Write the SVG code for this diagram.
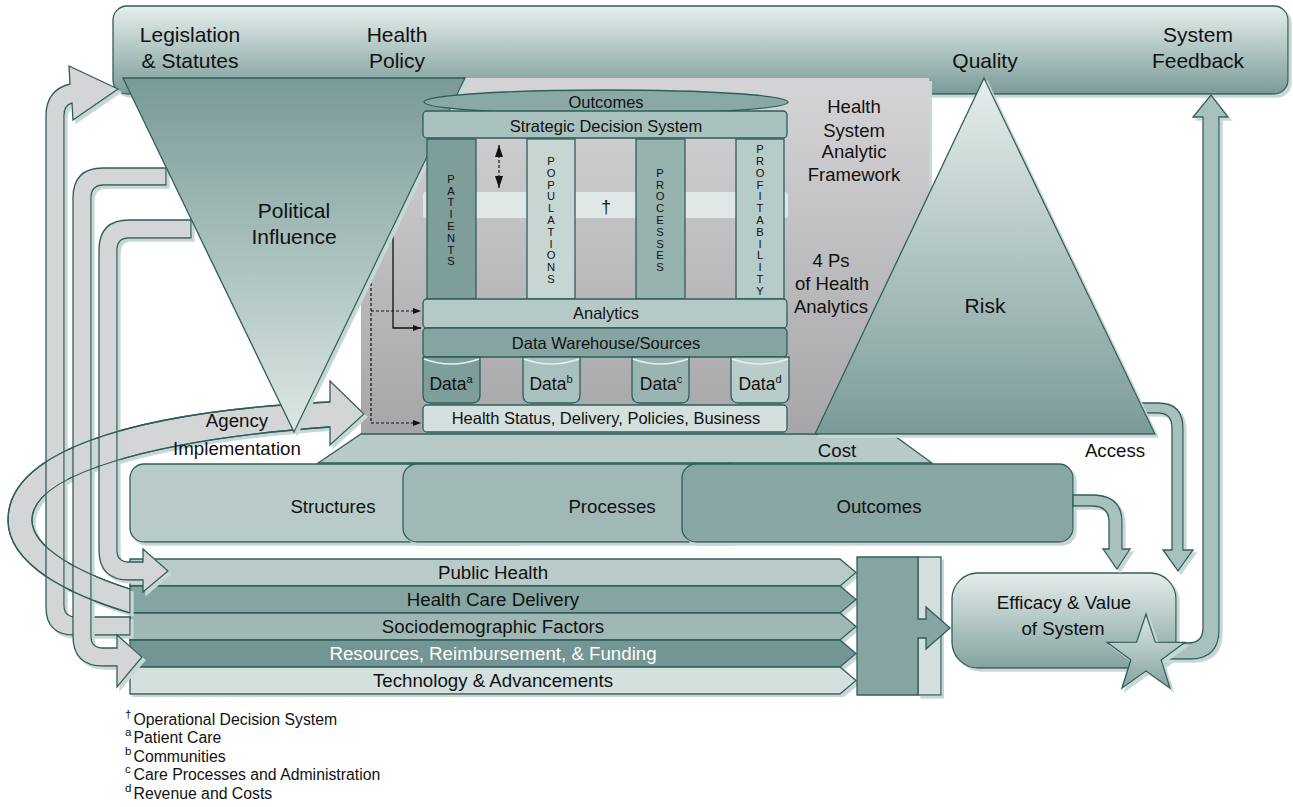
<svg xmlns="http://www.w3.org/2000/svg" width="1293" height="807" viewBox="0 0 1293 807">
<defs>
<linearGradient id="gBanner" x1="0" y1="0" x2="0" y2="1"><stop offset="0" stop-color="#e6efed"/><stop offset="1" stop-color="#7b9b98"/></linearGradient>
<linearGradient id="gPol" x1="0" y1="0" x2="0" y2="1"><stop offset="0" stop-color="#799a97"/><stop offset="1" stop-color="#dce7e5"/></linearGradient>
<linearGradient id="gQual" x1="0" y1="0" x2="0" y2="1"><stop offset="0" stop-color="#e6eeed"/><stop offset="1" stop-color="#7b9b98"/></linearGradient>
<linearGradient id="gGray" x1="0" y1="0" x2="0" y2="1"><stop offset="0" stop-color="#d5d5d7"/><stop offset="1" stop-color="#a6a6a9"/></linearGradient>
<linearGradient id="gEff" x1="0" y1="0" x2="0" y2="1"><stop offset="0" stop-color="#e4edeb"/><stop offset="1" stop-color="#84a3a0"/></linearGradient>
<linearGradient id="gStar" x1="0" y1="0" x2="0" y2="1"><stop offset="0" stop-color="#dde7e5"/><stop offset="1" stop-color="#84a3a0"/></linearGradient>
<filter id="sh" x="-5%" y="-5%" width="115%" height="115%">
<feFlood flood-color="#c6d8d5"/><feComposite in2="SourceAlpha" operator="in"/><feOffset dx="3" dy="3"/>
<feMerge><feMergeNode/><feMergeNode in="SourceGraphic"/></feMerge>
</filter>
<marker id="ah" viewBox="0 0 8 6" refX="8" refY="3" markerWidth="8" markerHeight="6" orient="auto" markerUnits="userSpaceOnUse"><path d="M0,0 L8,3 L0,6 Z" fill="#111"/></marker>
<marker id="ah2" viewBox="0 0 12 8" refX="12" refY="4" markerWidth="12" markerHeight="8" orient="auto-start-reverse" markerUnits="userSpaceOnUse"><path d="M0,0 L12,4 L0,8 Z" fill="#111"/></marker>
</defs>
<style>
text{font-family:"Liberation Sans",Arial,sans-serif;fill:#111;text-anchor:middle}
.s{stroke:#2e5e5b;stroke-width:1.3}
.ga{fill:#d4d5d7;stroke:#2e5e5b;stroke-width:1.3}
.ta{fill:#a9c1be;stroke:#2e5e5b;stroke-width:1.3}
.t21{font-size:21px}
.t19{font-size:18.7px}
.t18{font-size:18.5px}
.t17{font-size:17.5px}
.t16{font-size:16.5px}
.pl{font-size:11.2px}
.fn{font-size:15.8px;text-anchor:start}
.fs{font-size:11.5px;text-anchor:start}
.dot{fill:none;stroke:#111;stroke-width:1.2;stroke-dasharray:3,2}
</style>

<g id="banner">
<rect x="113" y="6" width="1175" height="88" rx="14" fill="url(#gBanner)" class="s" filter="url(#sh)"/>
<text class="t21" x="190" y="41.5">Legislation</text>
<text class="t21" x="190" y="67.5">&amp; Statutes</text>
<text class="t21" x="397" y="41.5">Health</text>
<text class="t21" x="397" y="67.5">Policy</text>
<text class="t21" x="985" y="67.5">Quality</text>
<text class="t21" x="1198" y="41.5">System</text>
<text class="t21" x="1198" y="67.5">Feedback</text>
</g>

<g id="framework-bg">
<rect x="361" y="78" width="568" height="356" fill="url(#gGray)" filter="url(#sh)"/>
<text class="t18" x="854" y="113.4">Health</text>
<text class="t18" x="854" y="136.7">System</text>
<text class="t18" x="854" y="158.4">Analytic</text>
<text class="t18" x="854" y="180.7">Framework</text>
<text class="t18" x="831" y="266.6">4 Ps</text>
<text class="t18" x="832" y="289.9">of Health</text>
<text class="t18" x="831" y="312.6">Analytics</text>
</g>

<g id="cost">
<polygon points="361,434 892,434 932,463 318,463" fill="#b7cac7" class="s"/>
<text class="t19" x="837" y="456.7">Cost</text>
</g>

<g id="spo">
<rect x="130" y="464" width="400" height="78" rx="14" fill="#b8cbc8" class="s" filter="url(#sh)"/>
<rect x="403" y="464" width="340" height="78" rx="14" fill="#a0b9b6" class="s" filter="url(#sh)"/>
<rect x="682" y="464" width="391" height="78" rx="14" fill="#88a7a4" class="s" filter="url(#sh)"/>
<text class="t19" x="333" y="513.4">Structures</text>
<text class="t19" x="612" y="513.4">Processes</text>
<text class="t19" x="879" y="513.4">Outcomes</text>
</g>

<g id="bars">
<polygon points="130,559 840,559 856,572.5 840,586 130,586" fill="#b8cbc8" class="s" filter="url(#sh)"/>
<polygon points="130,586 840,586 856,599.5 840,613 130,613" fill="#86a5a2" class="s" filter="url(#sh)"/>
<polygon points="130,613 840,613 856,626.5 840,640 130,640" fill="#9fb8b5" class="s" filter="url(#sh)"/>
<polygon points="130,640 840,640 856,653.5 840,667 130,667" fill="#739593" class="s" filter="url(#sh)"/>
<polygon points="130,667 840,667 856,680.5 840,694 130,694" fill="#d3e0de" class="s" filter="url(#sh)"/>
<text class="t19" x="493" y="579">Public Health</text>
<text class="t19" x="493" y="606">Health Care Delivery</text>
<text class="t19" x="493" y="633">Sociodemographic Factors</text>
<text class="t19" x="493" y="660" style="fill:#ffffff">Resources, Reimbursement, &amp; Funding</text>
<text class="t19" x="493" y="687">Technology &amp; Advancements</text>
</g>

<g id="collector">
<rect x="918" y="557" width="23" height="138" fill="#d3e0de" class="s" filter="url(#sh)"/>
<polygon points="857,557 918,557 918,619 926,619 926,607 950,628 926,649 926,638 918,638 918,695 857,695" fill="#86a5a2" class="s"/>
</g>

<g id="efficacy">
<rect x="952" y="573" width="224" height="95" rx="26" fill="url(#gEff)" class="s" filter="url(#sh)"/>
<text class="t19" x="1064" y="608.7">Efficacy &amp; Value</text>
<text class="t19" x="1063" y="634.7">of System</text>
</g>

<g id="connectors">
<path class="ga" filter="url(#sh)" d="M130,613 C70,595 8,565 8,520 C8,455 120,412 330,402 L330,381 L364,414 L330,445 L330,427 C150,440 32,475 32,520 C32,548 80,573 130,589 Z"/>
<path class="ga" filter="url(#sh)" d="M130,617 L76,617 Q64,617 64,605 L64,116 Q64,105 72,103 L73,120 L118,89 L69,66 L70,84 Q46,90 46,116 L46,607 Q46,635 74,635 L130,635 Z"/>
<path class="ga" filter="url(#sh)" d="M166,168 L103,168 Q73,168 73,198 L73,636 Q73,666 103,666 L117,666 L117,687 L142,657 L117,635 L117,648 L103,648 Q91,648 91,636 L91,198 Q91,185 104,185 L166,185 Z"/>
<path class="ga" filter="url(#sh)" d="M191,220 L129,220 Q99,220 99,250 L99,550 Q99,580 129,580 L143,580 L143,592 L168,571 L143,549 L143,562 L129,562 Q117,562 117,550 L117,250 Q117,238 129,238 L191,238 Z"/>
<path d="M130,613 C70,595 8,565 8,520 C8,455 120,412 330,402 M330,427 C150,440 32,475 32,520 C32,548 80,573 130,589" fill="none" stroke="#2e5e5b" stroke-width="1.3"/>
<text class="t19" x="237" y="426.7">Agency</text>
<text class="t19" x="237" y="454.7">Implementation</text>
<path class="ta" filter="url(#sh)" d="M1073,495 L1092,495 Q1122,495 1122,522 L1122,549 L1130,549 L1117,569 L1103,549 L1109,549 L1109,522 Q1109,506 1092,506 L1073,506 Z"/>
<path class="ta" filter="url(#sh)" d="M1140,403 L1158,403 Q1183,403 1183,428 L1183,550 L1193,550 L1178,571 L1163,550 L1172,550 L1172,428 Q1172,413 1158,413 L1145,413 Z"/>
<path class="ta" filter="url(#sh)" d="M1162,659 L1190,659 Q1219,659 1219,630 L1219,117 L1228,117 L1211,95 L1193,117 L1203,117 L1203,628 Q1203,643 1188,643 L1184,643 Z"/>
<path class="dot" d="M371,273 V423 H421" marker-end="url(#ah)"/>
<path class="dot" d="M371,311 H421" marker-end="url(#ah)"/>
<path d="M393,227 V328 H421" fill="none" stroke="#111" stroke-width="1.3" marker-end="url(#ah)"/>
</g>

<g id="political">
<polygon points="123,78 465,78 294,432" fill="url(#gPol)" class="s" filter="url(#sh)"/>
<text class="t21" x="294" y="218">Political</text>
<text class="t21" x="294" y="243.5">Influence</text>
</g>

<g id="framework">
<rect x="423" y="192" width="365" height="26" rx="3" fill="#e0e8e7"/>
<rect x="427" y="139" width="49" height="160" fill="#7d9e9b" class="s"/>
<rect x="527" y="139" width="48" height="160" fill="#c5d6d3" class="s"/>
<rect x="636" y="139" width="49" height="160" fill="#97b2af" class="s"/>
<rect x="736" y="139" width="48" height="160" fill="#b7cbc8" class="s"/>
<ellipse cx="606" cy="102" rx="182" ry="12" fill="#8aa8a5" class="s"/>
<rect x="423" y="111" width="364" height="27" rx="4" fill="#a9c1be" class="s"/>
<rect x="423" y="299" width="364" height="29" rx="4" fill="#b5c9c6" class="s"/>
<rect x="423" y="328" width="364" height="29" rx="4" fill="#86a5a2" class="s"/>
<path d="M423,357 L423,395 Q423,403 431,403 L472,403 Q480,403 480,395 L480,357 Z" fill="#7d9e9b" class="s"/>
<path d="M523,357 L523,395 Q523,403 531,403 L572,403 Q580,403 580,395 L580,357 Z" fill="#a9c1be" class="s"/>
<path d="M632,357 L632,395 Q632,403 640,403 L681,403 Q689,403 689,395 L689,357 Z" fill="#9ab4b1" class="s"/>
<path d="M731,357 L731,395 Q731,403 739,403 L781,403 Q789,403 789,395 L789,357 Z" fill="#b8ccc9" class="s"/>
<path d="M424,359 Q451,369 479,359 M524,359 Q551,369 579,359 M633,359 Q660,369 688,359 M732,359 Q760,369 788,359" fill="none" stroke="#e8efee" stroke-width="1.6"/>
<rect x="423" y="405" width="364" height="27" rx="4" fill="#d3e0de" class="s"/>
<path class="dot" d="M499,145 V188" marker-start="url(#ah2)" marker-end="url(#ah2)"/>
<text class="t16" x="606" y="108">Outcomes</text>
<text class="t16" x="606" y="132">Strategic Decision System</text>
<text class="t16" x="606" y="319">Analytics</text>
<text class="t16" x="606" y="348.7">Data Warehouse/Sources</text>
<text class="t16" x="606" y="424.3">Health Status, Delivery, Policies, Business</text>
<text class="t17" x="451" y="389.5">Data<tspan dy="-7" font-size="11">a</tspan></text>
<text class="t17" x="551" y="389.5">Data<tspan dy="-7" font-size="11">b</tspan></text>
<text class="t17" x="661" y="389.5">Data<tspan dy="-7" font-size="11">c</tspan></text>
<text class="t17" x="760" y="389.5">Data<tspan dy="-7" font-size="11">d</tspan></text>
<text class="t17" x="606" y="213">†</text>
<text class="pl" x="451" y="182.7"><tspan x="451">P</tspan><tspan x="451" dy="11.8">A</tspan><tspan x="451" dy="11.8">T</tspan><tspan x="451" dy="11.8">I</tspan><tspan x="451" dy="11.8">E</tspan><tspan x="451" dy="11.8">N</tspan><tspan x="451" dy="11.8">T</tspan><tspan x="451" dy="11.8">S</tspan></text>
<text class="pl" x="551" y="165"><tspan x="551">P</tspan><tspan x="551" dy="11.8">O</tspan><tspan x="551" dy="11.8">P</tspan><tspan x="551" dy="11.8">U</tspan><tspan x="551" dy="11.8">L</tspan><tspan x="551" dy="11.8">A</tspan><tspan x="551" dy="11.8">T</tspan><tspan x="551" dy="11.8">I</tspan><tspan x="551" dy="11.8">O</tspan><tspan x="551" dy="11.8">N</tspan><tspan x="551" dy="11.8">S</tspan></text>
<text class="pl" x="660" y="176.8"><tspan x="660">P</tspan><tspan x="660" dy="11.8">R</tspan><tspan x="660" dy="11.8">O</tspan><tspan x="660" dy="11.8">C</tspan><tspan x="660" dy="11.8">E</tspan><tspan x="660" dy="11.8">S</tspan><tspan x="660" dy="11.8">S</tspan><tspan x="660" dy="11.8">E</tspan><tspan x="660" dy="11.8">S</tspan></text>
<text class="pl" x="760" y="153.2"><tspan x="760">P</tspan><tspan x="760" dy="11.8">R</tspan><tspan x="760" dy="11.8">O</tspan><tspan x="760" dy="11.8">F</tspan><tspan x="760" dy="11.8">I</tspan><tspan x="760" dy="11.8">T</tspan><tspan x="760" dy="11.8">A</tspan><tspan x="760" dy="11.8">B</tspan><tspan x="760" dy="11.8">I</tspan><tspan x="760" dy="11.8">L</tspan><tspan x="760" dy="11.8">I</tspan><tspan x="760" dy="11.8">T</tspan><tspan x="760" dy="11.8">Y</tspan></text>
</g>

<g id="quality">
<polygon points="984,78 1155,434 815,434" fill="url(#gQual)" class="s" filter="url(#sh)"/>
<text class="t21" x="985" y="312.5">Risk</text>
<text class="t19" x="1115" y="456.7">Access</text>
</g>

<g id="star">
<polygon points="1146,614 1155.4,642.1 1185,642.3 1161.2,659.9 1170.1,688.2 1146,671 1121.9,688.2 1130.8,659.9 1107,642.3 1136.6,642.1" fill="url(#gStar)" class="s" filter="url(#sh)"/>
</g>

<g id="footnotes">
<text class="fs" x="125" y="717.5">†</text><text class="fn" x="133.5" y="724.5">Operational Decision System</text>
<text class="fs" x="125" y="736">a</text><text class="fn" x="133.5" y="743">Patient Care</text>
<text class="fs" x="125" y="754.5">b</text><text class="fn" x="133.5" y="761.5">Communities</text>
<text class="fs" x="125" y="773">c</text><text class="fn" x="133.5" y="780">Care Processes and Administration</text>
<text class="fs" x="125" y="791.5">d</text><text class="fn" x="133.5" y="798.5">Revenue and Costs</text>
</g>
</svg>
